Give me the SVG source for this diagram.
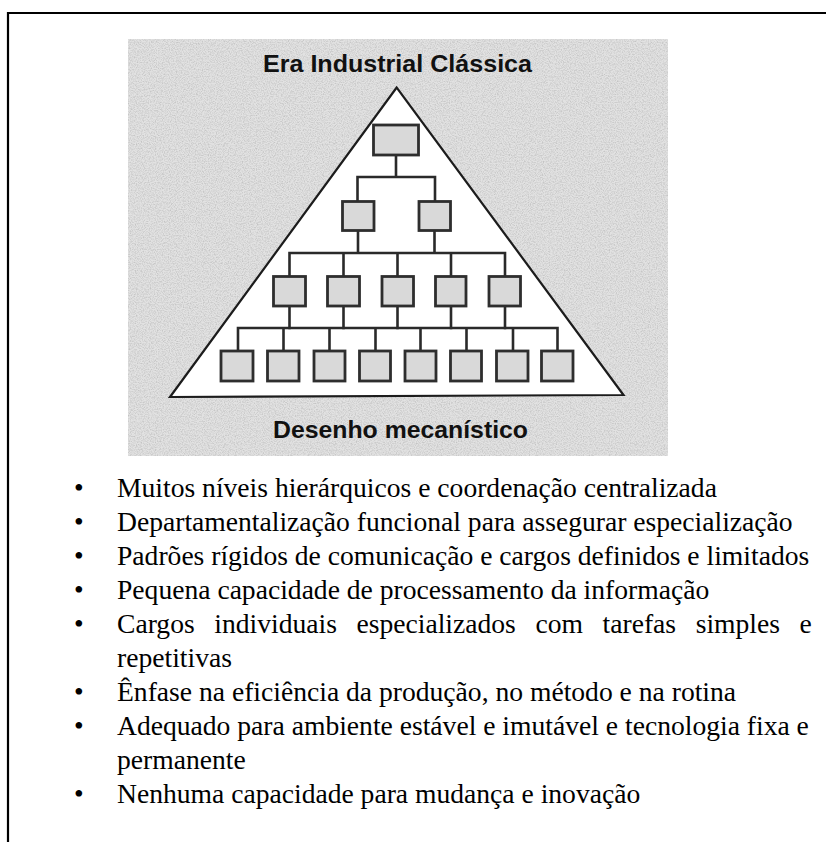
<svg xmlns="http://www.w3.org/2000/svg" width="826" height="842" viewBox="0 0 826 842">
  <style>
    .frame { fill: none; stroke: #000; stroke-width: 2.2; }
    .edge { stroke: #2a2a2a; stroke-width: 2.6; fill: none; stroke-linecap: square; }
    .box rect { fill: #d9d9d9; stroke: #2e2e2e; stroke-width: 2.8; }
    .head { font-family: "Liberation Sans", Arial, sans-serif; font-weight: bold; font-size: 24.5px; fill: #111; }
    .item { font-family: "Liberation Serif", "Times New Roman", serif; font-size: 27.6px; fill: #000; }
  </style>
  <defs>
    <!-- speckled halftone grain for the printed figure -->
    <filter id="grain" x="0" y="0" width="100%" height="100%">
      <feTurbulence type="fractalNoise" baseFrequency="0.85" numOctaves="2" seed="7" result="noise"/>
      <feColorMatrix in="noise" type="matrix" values="0 0 0 0 0.55  0 0 0 0 0.55  0 0 0 0 0.55  2.2 0 0 0 -0.85" result="dots"/>
      <feComposite in="dots" in2="SourceGraphic" operator="in"/>
    </filter>
  </defs>

  <!-- page frame: top and left rules -->
  <path class="frame" d="M8 842 V13 H826"/>

  <!-- figure panel -->
  <g id="panel">
    <rect x="128" y="39" width="540" height="417" fill="#e2e2e2"/>
    <rect x="128" y="39" width="540" height="417" fill="#fff" filter="url(#grain)"/>
    <text class="head" x="263" y="72" textLength="269" lengthAdjust="spacingAndGlyphs">Era Industrial Clássica</text>
    <text class="head" x="273" y="438" textLength="255" lengthAdjust="spacingAndGlyphs">Desenho mecanístico</text>
  </g>

  <!-- pyramid outline -->
  <g id="pyramid">
    <polygon points="396.7,87.5 170,397 623.5,395" fill="#fff" stroke="#1c1c1c" stroke-width="2.2" stroke-linejoin="miter"/>
  </g>

  <!-- reporting lines -->
  <g id="connectors" class="edge">
    <path d="M396 155 V177 M357.5 201.5 V177 H435 V201.5"/>
    <path d="M358 230.5 V253 M434.5 230.5 V253 M289.5 276.5 V253 H505 V276.5 M343.5 253 V276.5 M397.5 253 V276.5 M451 253 V276.5"/>
    <path d="M289.5 306 V328 M343.5 306 V328 M397.5 306 V328 M451 306 V328 M505 306 V328"/>
    <path d="M238 351 V328 H557.5 V351 M283.5 328 V351 M329.5 328 V351 M375.5 328 V351 M420.5 328 V351 M466.5 328 V351 M513 328 V351"/>
  </g>

  <!-- units, top to bottom -->
  <g id="n-top" class="box"><rect x="373.5" y="125" width="45" height="30"/></g>

  <g id="n-2a" class="box"><rect x="342.5" y="201.5" width="31.5" height="29"/></g>
  <g id="n-2b" class="box"><rect x="419" y="201.5" width="31.5" height="29"/></g>

  <g id="n-3a" class="box"><rect x="273.5" y="276.5" width="32" height="29.5"/></g>
  <g id="n-3b" class="box"><rect x="327.5" y="276.5" width="32" height="29.5"/></g>
  <g id="n-3c" class="box"><rect x="382" y="276.5" width="31.5" height="29.5"/></g>
  <g id="n-3d" class="box"><rect x="435.5" y="276.5" width="30.5" height="29.5"/></g>
  <g id="n-3e" class="box"><rect x="489" y="276.5" width="31.5" height="29.5"/></g>

  <g id="n-4a" class="box"><rect x="221" y="351" width="32" height="30"/></g>
  <g id="n-4b" class="box"><rect x="267.5" y="351" width="31.5" height="30"/></g>
  <g id="n-4c" class="box"><rect x="314" y="351" width="31" height="30"/></g>
  <g id="n-4d" class="box"><rect x="359.5" y="351" width="31" height="30"/></g>
  <g id="n-4e" class="box"><rect x="405" y="351" width="31" height="30"/></g>
  <g id="n-4f" class="box"><rect x="450.5" y="351" width="31" height="30"/></g>
  <g id="n-4g" class="box"><rect x="496.5" y="351" width="31.5" height="30"/></g>
  <g id="n-4h" class="box"><rect x="541.5" y="351" width="31.5" height="30"/></g>

  <!-- characteristics list -->
  <g id="list" class="item">
    <text x="74" y="497">•</text>
    <text x="117" y="497">Muitos níveis hierárquicos e coordenação centralizada</text>
    <text x="74" y="531">•</text>
    <text x="117" y="531">Departamentalização funcional para assegurar especialização</text>
    <text x="74" y="565">•</text>
    <text x="117" y="565">Padrões rígidos de comunicação e cargos definidos e limitados</text>
    <text x="74" y="599">•</text>
    <text x="117" y="599">Pequena capacidade de processamento da informação</text>
    <text x="74" y="633">•</text>
    <text x="117" y="633" style="word-spacing:12.7px">Cargos individuais especializados com tarefas simples e</text>
    <text x="117" y="667">repetitivas</text>
    <text x="74" y="701">•</text>
    <text x="117" y="701">Ênfase na eficiência da produção, no método e na rotina</text>
    <text x="74" y="735">•</text>
    <text x="117" y="735">Adequado para ambiente estável e imutável e tecnologia fixa e</text>
    <text x="117" y="769">permanente</text>
    <text x="74" y="803">•</text>
    <text x="117" y="803">Nenhuma capacidade para mudança e inovação</text>
  </g>
</svg>
